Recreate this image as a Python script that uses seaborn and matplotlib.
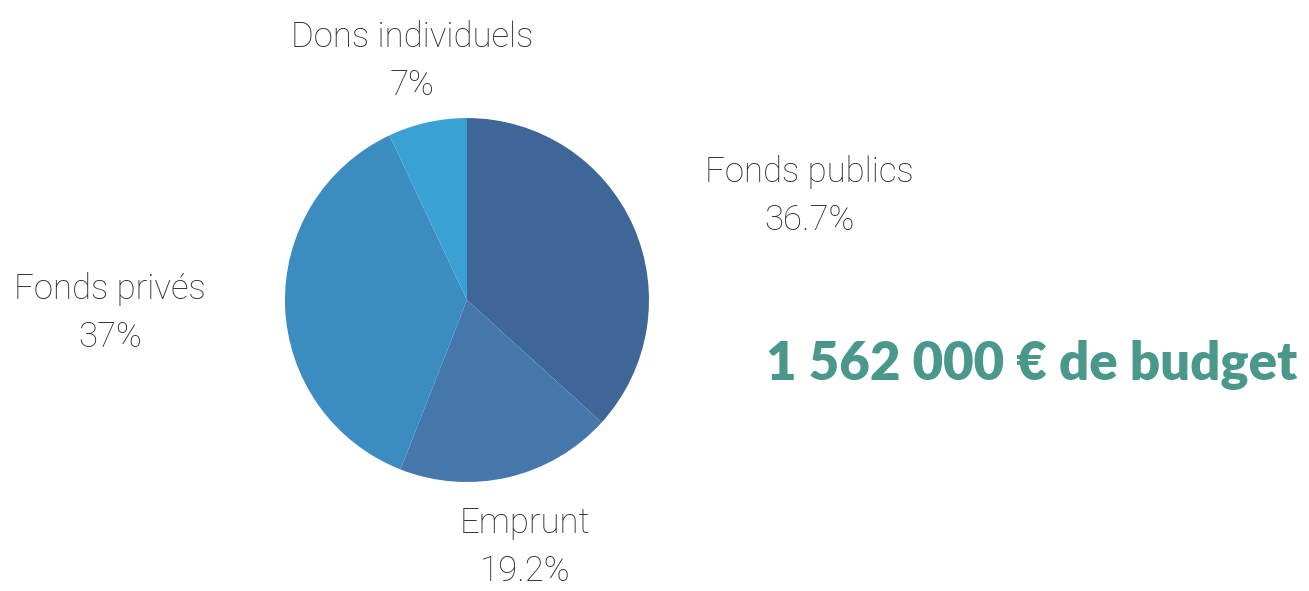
"""Budget breakdown pie chart."""

import matplotlib

matplotlib.use("Agg")
import matplotlib.pyplot as plt
import seaborn as sns

categories = ["Fonds publics", "Emprunt", "Fonds privés", "Dons individuels"]
shares = [36.7, 19.2, 37.0, 7.0]
share_labels = ["36.7%", "19.2%", "37%", "7%"]
colors = ["#3e6797", "#4577ad", "#3b8cc1", "#3aa1d5"]
budget_text = "1 562 000 € de budget"

# label anchors in pie data units (radius = 1)
label_pos = [(1.88, 0.57), (0.32, -1.36), (-1.96, -0.07), (-0.30, 1.31)]

sns.set_theme(style="white")
plt.rcParams["font.family"] = ["Lato", "DejaVu Sans"]

fig = plt.figure(figsize=(13.09, 5.91), dpi=100)
ax = fig.add_axes([0.2177, 0.1844, 0.2781, 0.6159])
ax.pie(shares, colors=colors, startangle=90, counterclock=False,
       wedgeprops={"linewidth": 0})
ax.set_xlim(-1, 1)
ax.set_ylim(-1, 1)
ax.set_aspect("equal")
ax.axis("off")

for name, pct, (x, y) in zip(categories, share_labels, label_pos):
    ax.text(x, y, f"{name}\n{pct}", ha="center", va="center", fontsize=25,
            family=["Roboto", "DejaVu Sans"], fontweight="light",
            color="#2e2e2e", linespacing=1.55, clip_on=False)

fig.text(1032 / 1309, 1 - 365 / 591, budget_text, ha="center", va="center",
         fontsize=38, fontweight="heavy", color="#4a978b")

fig.savefig("out.png", dpi=100)
